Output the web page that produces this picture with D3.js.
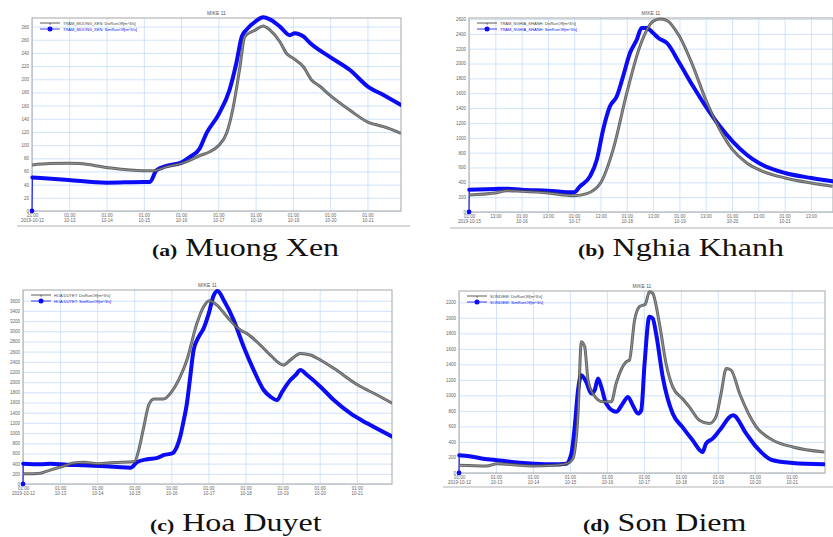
<!DOCTYPE html>
<html>
<head>
<meta charset="utf-8">
<script src="https://cdn.jsdelivr.net/npm/d3@7"></script>
<style>
  body { margin: 0; background: #fff; }
  svg { display: block; }
  .tick text { font-family: "Liberation Sans", Arial, sans-serif; fill: #666; }
</style>
</head>
<body>
<div id="chart"></div>
<script>
// ---- data (x = days since first tick, y = discharge m3/s) ----
var aObsX = [0,0.47,0.98,1.28,2.00,3.00,3.25,3.61,4.00,4.23,4.50,4.77,5.00,5.22,5.40,5.58,5.71,6.00,6.20,6.38,6.65,6.83,7.00,7.28,7.50,7.73,7.99,8.53,9.01,9.43,9.90];
var aObsY = [70,72,72.5,72,66,61,61,67,72,77,84,90,99,118,158,219,265,275,281,275,257,239,232,219,199,189,176,153,135,128,118];
var aSimX = [0,0.01,0.98,2.00,3.00,3.16,3.34,3.61,4.00,4.23,4.50,4.68,5.00,5.30,5.48,5.63,5.75,6.00,6.20,6.38,6.65,6.92,7.05,7.28,7.46,7.99,8.53,9.01,9.43,9.90];
var aSimY = [0,51,47,43,44,44,62,68.5,73.5,82,95,118,146,184,224,265,275,288,294,291,280,267,270,265,255,234,214,189,176,161];

var bObsX = [0,0.49,0.72,1.00,1.50,2.00,2.24,2.50,2.74,3.00,3.25,3.50,3.63,3.76,4.00,4.26,4.50,4.77,5.01,5.28,5.51,6.01,6.51,6.91];
var bObsY = [230,256,287,278,256,220,247,390,840,1603,2232,2568,2600,2582,2366,1962,1513,1109,840,660,570,458,390,346];
var bSimX = [0,0.005,0.49,0.72,1.00,1.50,2.00,2.11,2.30,2.43,2.55,2.68,2.81,2.93,3.06,3.19,3.28,3.38,3.50,3.60,3.76,4.00,4.26,4.50,4.77,5.01,5.28,5.51,6.01,6.51,6.91];
var bSimY = [0,300,310,314,300,287,265,346,480,705,1109,1423,1558,1828,2142,2321,2479,2479,2411,2344,2277,2007,1693,1423,1154,952,772,660,525,458,413];

var cObsX = [0,0.47,0.65,1.01,1.37,1.64,2.01,2.45,3.01,3.12,3.26,3.39,3.53,3.79,4.01,4.24,4.42,4.69,4.87,5.02,5.23,5.50,5.86,6.03,6.40,6.67,7.02,7.21,7.48,7.75,8.02,8.38,9.03,9.55,9.96];
var cObsY = [200,213,253,333,413,427,400,420,440,667,1133,1551,1669,1669,1813,2107,2435,3155,3482,3600,3514,3285,3024,2958,2729,2533,2336,2435,2565,2533,2435,2271,1944,1747,1584];
var cSimX = [0,0.005,0.47,0.74,1.19,1.64,2.09,2.54,2.90,3.08,3.35,3.62,3.79,4.02,4.15,4.24,4.32,4.42,4.51,4.60,4.74,4.87,5.01,5.14,5.25,5.41,5.68,5.95,6.22,6.49,6.67,6.85,6.99,7.21,7.35,7.48,7.66,8.02,8.38,8.83,9.28,9.96];
var cSimY = [0,400,387,400,380,367,353,333,320,433,487,513,567,600,733,933,1200,1584,2107,2631,2893,3056,3351,3700,3790,3613,3220,2696,2238,1846,1715,1649,1813,2042,2140,2238,2140,1911,1649,1387,1191,929];

var dObsX = [0,0.74,1.03,1.64,2.04,2.54,2.90,3.08,3.22,3.31,3.40,3.49,3.62,3.89,4.12,4.25,4.52,4.61,4.75,4.88,5.04,5.15,5.24,5.42,5.60,5.78,6.04,6.23,6.50,6.77,6.95,7.09,7.23,7.36,7.59,8.04,8.49,9.03,9.88];
var dObsY = [99,90,120,99,90,99,120,185,766,1692,1627,1197,1025,917,917,1154,1433,1455,1972,2144,2178,2337,2315,1929,1412,1111,960,852,680,637,723,1025,1347,1326,1025,594,422,336,271];
var dSimX = [0,0.005,0.29,0.65,1.03,1.64,2.04,2.54,2.90,3.04,3.13,3.22,3.31,3.44,3.58,3.67,3.76,3.85,3.98,4.25,4.43,4.57,4.70,4.84,4.93,5.02,5.15,5.24,5.33,5.51,5.78,6.04,6.32,6.59,6.68,6.86,7.05,7.41,7.77,8.04,8.49,9.03,9.88];
var dSimY = [0,228,215,185,164,133,120,112,120,250,594,1068,1261,1175,1025,1068,1218,1111,895,788,895,981,874,766,809,1412,2015,1993,1799,1240,766,594,422,271,379,443,551,745,508,336,164,129,112];

// tick labels
var ticksDaily12 = [["21:00","2019-10-12"],["01:00","10-13"],["01:00","10-14"],["01:00","10-15"],["01:00","10-16"],["01:00","10-17"],["01:00","10-18"],["01:00","10-19"],["01:00","10-20"],["01:00","10-21"]];
var ticksDaily12b = [["01:00","2019-10-12"],["01:00","10-13"],["01:00","10-14"],["01:00","10-15"],["01:00","10-16"],["01:00","10-17"],["01:00","10-18"],["01:00","10-19"],["01:00","10-20"],["01:00","10-21"]];
var ticksHalf15 = [["01:00","2019-10-15"],["13:00",""],["01:00","10-16"],["13:00",""],["01:00","10-17"],["13:00",""],["01:00","10-18"],["13:00",""],["01:00","10-19"],["13:00",""],["01:00","10-20"],["13:00",""],["01:00","10-21"],["13:00",""]];

var captionsTag = ["(a)", "(b)", "(c)", "(d)"];
var captionsName = ["Muong Xen", "Nghia Khanh", "Hoa Duyet", "Son Diem"];
var legendNames = ["TRAM_MUONG_XEN", "TRAM_NGHIA_KHANH", "HOA DUYET", "SONDIEM"];

var panels = [
  {box: [32, 18, 401, 211], xMax: 9.9, yMax: 293, yStep: 20, yTop: 280, xStep: 1, ticks: ticksDaily12,
   obs: [aObsX, aObsY], sim: [aSimX, aSimY], cap: [152, 256], frame: [17, 410, 226]},
  {box: [469, 18, 833, 212], xMax: 6.92, yMax: 2613, yStep: 200, yTop: 2600, xStep: 0.5, ticks: ticksHalf15,
   obs: [bObsX, bObsY], sim: [bSimX, bSimY], cap: [578, 256], frame: [450, 833, 228]},
  {box: [23, 290, 392, 484], xMax: 9.95, yMax: 3810, yStep: 200, yTop: 3600, xStep: 1, ticks: ticksDaily12b,
   obs: [cObsX, cObsY], sim: [cSimX, cSimY], cap: [150, 531], frame: null},
  {box: [459, 291, 825, 473], xMax: 9.9, yMax: 2346, yStep: 200, yTop: 2200, xStep: 1, ticks: ticksDaily12b,
   obs: [dObsX, dObsY], sim: [dSimX, dSimY], cap: [583, 531], frame: [443, 833, 487]}
];

var svg = d3.select("#chart").append("svg")
  .attr("width", 833)
  .attr("height", 537);

panels.forEach(function(p, i) {
  var left = p.box[0], top = p.box[1], right = p.box[2], bottom = p.box[3];
  var w = right - left, h = bottom - top;

  var x = d3.scaleLinear().domain([0, p.xMax]).range([0, w]);
  var y = d3.scaleLinear().domain([0, p.yMax]).range([h, 0]);

  if (p.frame) {
    svg.append("line")
      .attr("x1", p.frame[0]).attr("x2", p.frame[1])
      .attr("y1", p.frame[2]).attr("y2", p.frame[2])
      .style("stroke", "#d8d8d8").style("stroke-width", 2);
  }

  var g = svg.append("g").attr("transform", "translate(" + left + "," + top + ")");

  // grid + y axis
  var yVals = d3.range(0, p.yTop + 1, p.yStep);
  var y_axis = d3.axisLeft(y).tickValues(yVals).tickSize(-w).tickPadding(3).tickFormat(d3.format("d"));
  var gy = g.append("g").call(y_axis);
  gy.select(".domain").remove();
  gy.selectAll("line").style("stroke", "#c4dcfb").style("stroke-width", 0.8);
  gy.selectAll("text").style("font-size", "4.5px");

  var xVals = p.ticks.map(function(t, k) { return k * p.xStep; });
  var x_axis = d3.axisBottom(x).tickValues(xVals).tickSize(-h).tickFormat("");
  var gx = g.append("g").attr("transform", "translate(0," + h + ")").call(x_axis);
  gx.select(".domain").remove();
  gx.selectAll("line").style("stroke", "#c4dcfb").style("stroke-width", 0.8);
  gx.selectAll(".tick").each(function(d, k) {
    var t = d3.select(this).append("text")
      .attr("text-anchor", "middle")
      .style("font-size", "4.5px")
      .style("fill", "#666");
    t.append("tspan").attr("x", 0).attr("y", 6).text(p.ticks[k][0]);
    t.append("tspan").attr("x", 0).attr("y", 11).text(p.ticks[k][1]);
  });

  // frame
  g.append("rect")
    .attr("width", w).attr("height", h)
    .style("fill", "none").style("stroke", "#b5b5b5").style("stroke-width", 1.2);

  // title
  g.append("text")
    .attr("x", w / 2).attr("y", -3)
    .attr("text-anchor", "middle")
    .style("font-family", "'Liberation Sans', Arial, sans-serif")
    .style("font-size", "5px").style("fill", "#555")
    .text("MIKE 11");

  var line = d3.line()
    .curve(d3.curveMonotoneX)
    .x(function(d) { return x(d[0]); })
    .y(function(d) { return y(d[1]); });

  var obs = p.obs[0].map(function(v, k) { return [v, p.obs[1][k]]; });
  var sim = p.sim[0].map(function(v, k) { return [v, p.sim[1][k]]; });

  g.append("clipPath").attr("id", "clip" + i)
    .append("rect").attr("x", -3).attr("y", -3).attr("width", w + 3).attr("height", h + 6);

  var plot = g.append("g").attr("clip-path", "url(#clip" + i + ")");

  // simulated (blue): thin start segment from the zero marker, then thick series
  plot.append("line")
    .attr("x1", x(sim[0][0])).attr("y1", y(sim[0][1]))
    .attr("x2", x(sim[1][0])).attr("y2", y(sim[1][1]))
    .style("stroke", "#0b0bf5").style("stroke-width", 1);
  plot.append("path").datum(sim.slice(1))
    .attr("d", line)
    .style("fill", "none").style("stroke", "#0b0bf5").style("stroke-width", 4)
    .style("stroke-linejoin", "round").style("stroke-linecap", "round");
  plot.append("circle")
    .attr("cx", x(sim[0][0])).attr("cy", y(sim[0][1]))
    .attr("r", 2.4).style("fill", "#0b0bf5");

  // observed (black)
  plot.append("path").datum(obs)
    .attr("d", line)
    .style("fill", "none").style("stroke", "#4a4a4a").style("stroke-width", 3)
    .style("stroke-opacity", 0.85).style("stroke-linejoin", "round");
  plot.append("path").datum(obs)
    .attr("d", line)
    .style("fill", "none").style("stroke", "#a0a0a0").style("stroke-width", 0.8);

  // legend
  var lg = g.append("g").attr("transform", "translate(8,5)");
  lg.append("line").attr("x1", 0).attr("x2", 20).attr("y1", 0).attr("y2", 0)
    .style("stroke", "#333").style("stroke-width", 0.8);
  lg.append("text").attr("x", 10).attr("y", 1.5).attr("text-anchor", "middle")
    .style("font-size", "4px").style("fill", "#333").text("x");
  lg.append("text").attr("x", 23).attr("y", 1.5)
    .style("font-family", "'Liberation Sans', Arial, sans-serif")
    .style("font-size", "4px").style("fill", "#444")
    .text(legendNames[i] + ": DisRunOff[m^3/s]");
  lg.append("line").attr("x1", 0).attr("x2", 20).attr("y1", 6).attr("y2", 6)
    .style("stroke", "#0b0bf5").style("stroke-width", 0.8);
  lg.append("circle").attr("cx", 10).attr("cy", 6).attr("r", 2.5).style("fill", "#0b0bf5");
  lg.append("text").attr("x", 23).attr("y", 7.5)
    .style("font-family", "'Liberation Sans', Arial, sans-serif")
    .style("font-size", "4px").style("fill", "#0b0bf5")
    .text(legendNames[i] + ": SimRunOff[m^3/s]");

  // caption (source figure is stretched horizontally)
  var cap = svg.append("text")
    .attr("transform", "translate(" + p.cap[0] + "," + p.cap[1] + ") scale(1.28,1)")
    .style("font-family", "'Liberation Serif', 'Times New Roman', serif")
    .style("fill", "#111");
  cap.append("tspan").style("font-size", "17px").style("font-weight", "bold").text(captionsTag[i]);
  cap.append("tspan").style("font-size", "25px").text(" " + captionsName[i]);
});
</script>
</body>
</html>
